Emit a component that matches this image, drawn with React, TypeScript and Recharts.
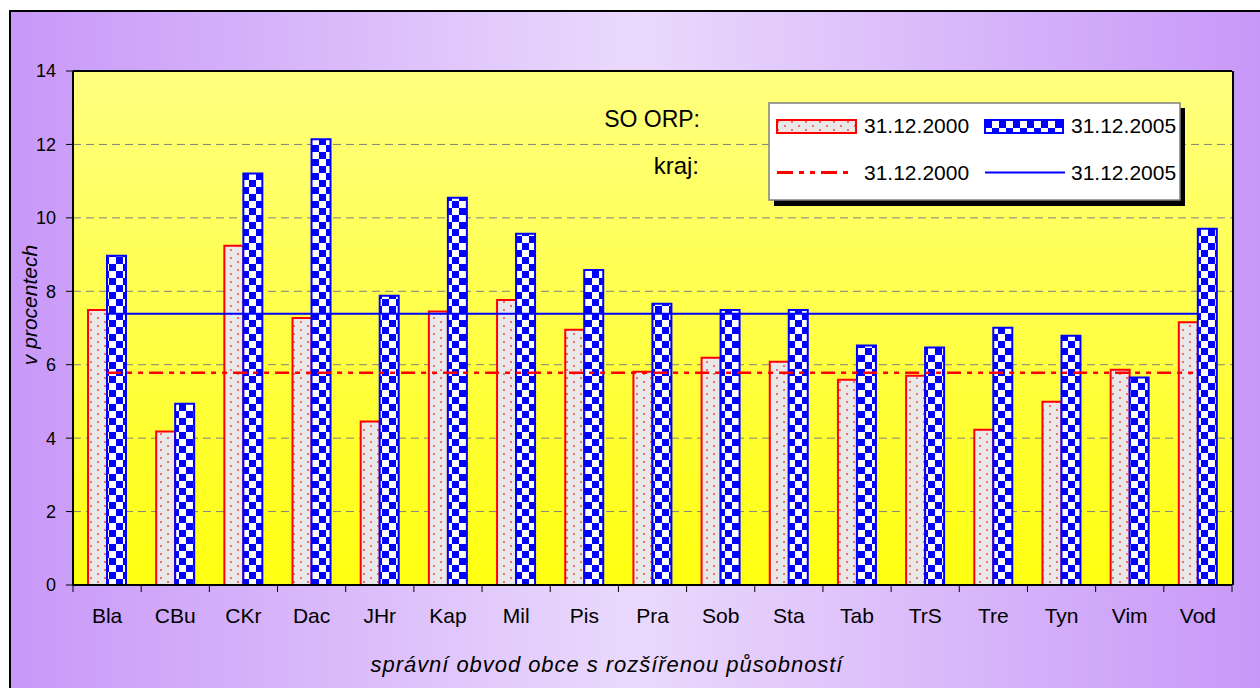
import React from "react";
import {
  ComposedChart,
  Bar,
  Line,
  XAxis,
  YAxis,
  CartesianGrid,
  ReferenceLine,
  Legend,
  Label
} from "recharts";

// categories = správní obvody ORP
const categories = ["Bla", "CBu", "CKr", "Dac", "JHr", "Kap", "Mil", "Pis", "Pra", "Sob", "Sta", "Tab", "TrS", "Tre", "Tyn", "Vim", "Vod"];
// SO ORP values (v procentech)
const orp2000 = [7.49, 4.18, 9.24, 7.27, 4.45, 7.45, 7.76, 6.95, 5.81, 6.19, 6.08, 5.59, 5.7, 4.23, 4.99, 5.86, 7.16];
const orp2005 = [8.97, 4.94, 11.21, 12.14, 7.88, 10.55, 9.57, 8.58, 7.66, 7.49, 7.49, 6.52, 6.47, 7.01, 6.79, 5.65, 9.7];
// kraj averages (same value for every ORP)
const kraj2000 = 5.78;
const kraj2005 = 7.39;
const yTicks = [0, 2, 4, 6, 8, 10, 12, 14];

const seriesLabels = ["31.12.2000", "31.12.2005"];

const data = categories.map((name, i) => ({
  name,
  orp2000: orp2000[i],
  orp2005: orp2005[i],
  kraj2000,
  kraj2005
}));

const FONT = "'Liberation Sans', Arial, sans-serif";
const CHART_W = 1249;
const CHART_H = 676;
const MARGIN = { top: 59, right: 28, left: 12, bottom: 63 };
const Y_W = 50;
const PLOT_W = CHART_W - MARGIN.left - MARGIN.right - Y_W;

// tick marks sit between categories, like in Excel
const XTick = (props: any) => {
  const { x, y, payload, index } = props;
  const band = PLOT_W / categories.length;
  const last = index === categories.length - 1;
  return (
    <g>
      <line x1={x - band / 2} y1={y} x2={x - band / 2} y2={y + 7} stroke="#000" strokeWidth={1} />
      {last && <line x1={x + band / 2} y1={y} x2={x + band / 2} y2={y + 7} stroke="#000" strokeWidth={1} />}
      <text x={x} y={y + 38} textAnchor="middle" fill="#000" fontSize={21} fontFamily={FONT}>
        {payload.value}
      </text>
    </g>
  );
};

const LegendBox = () => (
  <svg width={600} height={120} style={{ display: "block", overflow: "visible" }}>
    <text x={100} y={27} textAnchor="end" fontSize={23} fontFamily={FONT} fill="#000">SO ORP:</text>
    <text x={99} y={74} textAnchor="end" fontSize={24} fontFamily={FONT} fill="#000">kraj:</text>
    <rect x={174} y={8} width={411} height={98} fill="#000" />
    <rect x={169} y={3} width={411} height={97} fill="#fff" stroke="#808080" strokeWidth={1.5} />
    <rect x={177} y={20} width={79} height={13} fill="url(#dots)" stroke="#ff0000" strokeWidth={2} />
    <text x={264} y={33} fontSize={21} fontFamily={FONT} fill="#000">{seriesLabels[0]}</text>
    <rect x={385} y={20} width={78} height={13} fill="url(#checks)" stroke="#0000ff" strokeWidth={2} />
    <text x={471} y={33} fontSize={21} fontFamily={FONT} fill="#000">{seriesLabels[1]}</text>
    <line x1={177} y1={72.5} x2={250} y2={72.5} stroke="#ff0000" strokeWidth={3} strokeDasharray="16 6 5 6 5 6" />
    <text x={264} y={80} fontSize={21} fontFamily={FONT} fill="#000">{seriesLabels[0]}</text>
    <line x1={385} y1={72.5} x2={465} y2={72.5} stroke="#0000ff" strokeWidth={2} />
    <text x={471} y={80} fontSize={21} fontFamily={FONT} fill="#000">{seriesLabels[1]}</text>
  </svg>
);

export default function App() {
  return (
    <div
      style={{
        position: "absolute",
        left: 9,
        top: 10,
        width: 1251,
        height: 678,
        boxSizing: "border-box",
        borderTop: "2px solid #000",
        borderLeft: "2px solid #000",
        overflow: "hidden",
        background: "linear-gradient(to right, #c898f8 0%, #ead9fc 50%, #c898f8 100%)"
      }}
    >
      <ComposedChart width={CHART_W} height={CHART_H} data={data} margin={MARGIN} barSize={19} barGap={0}>
        <defs>
          <linearGradient id="plotBg" x1="0" y1="0" x2="0" y2="1">
            <stop offset="0%" stopColor="#ffff80" />
            <stop offset="100%" stopColor="#ffff10" />
          </linearGradient>
          <pattern id="dots" width={14} height={8} patternUnits="userSpaceOnUse">
            <rect width={14} height={8} fill="#e8e8e8" />
            <circle cx={3} cy={2} r={1} fill="#ff4040" />
            <circle cx={10} cy={6} r={1} fill="#ff4040" />
          </pattern>
          <pattern id="checks" width={14} height={14} patternUnits="userSpaceOnUse">
            <rect width={14} height={14} fill="#ffffff" />
            <rect width={7} height={7} fill="#0000ff" />
            <rect x={7} y={7} width={7} height={7} fill="#0000ff" />
          </pattern>
        </defs>
        <CartesianGrid
          vertical={false}
          fill="url(#plotBg)"
          stroke="#808080"
          strokeDasharray="8 5"
          strokeWidth={1}
        />
        <XAxis
          dataKey="name"
          height={40}
          tickLine={false}
          tickSize={0}
          tickMargin={0}
          interval={0}
          axisLine={{ stroke: "#000", strokeWidth: 2 }}
          tick={<XTick />}
        >
          <Label
            content={() => (
              <text x={596} y={660} textAnchor="middle" fontSize={22} letterSpacing={0.95} fontStyle="italic" fontFamily={FONT} fill="#000">
                správní obvod obce s rozšířenou působností
              </text>
            )}
          />
        </XAxis>
        <YAxis
          width={Y_W}
          domain={[0, 14]}
          ticks={yTicks}
          interval={0}
          tickSize={7}
          tickMargin={10}
          axisLine={{ stroke: "#000", strokeWidth: 2 }}
          tickLine={{ stroke: "#000" }}
          tick={{ fontSize: 18, fontFamily: FONT, fill: "#000" }}
        >
          <Label
            content={() => (
              <text
                x={18}
                y={293}
                transform="rotate(-90 18 293)"
                textAnchor="middle"
                dominantBaseline="central"
                fontSize={21}
                fontStyle="italic"
                fontFamily={FONT}
                fill="#000"
              >
                v procentech
              </text>
            )}
          />
        </YAxis>
        <Line
          dataKey="kraj2005"
          stroke="#0000ff"
          strokeWidth={2}
          dot={false}
          activeDot={false}
          isAnimationActive={false}
          legendType="none"
        />
        <Bar dataKey="orp2000" name={seriesLabels[0]} fill="url(#dots)" stroke="#ff0000" strokeWidth={2} isAnimationActive={false} />
        <Bar dataKey="orp2005" name={seriesLabels[1]} fill="url(#checks)" stroke="#0000ff" strokeWidth={2} isAnimationActive={false} />
        <Line
          dataKey="kraj2000"
          stroke="#ff0000"
          strokeWidth={2.5}
          strokeDasharray="14 6 5 6 5 6"
          dot={false}
          activeDot={false}
          isAnimationActive={false}
          legendType="none"
        />
        <ReferenceLine y={14} stroke="#000" strokeWidth={2} />
        <Legend
          layout="horizontal"
          verticalAlign="middle"
          align="center"
          wrapperStyle={{ left: 589, top: 88, width: 600, height: 120 }}
          content={() => <LegendBox />}
        />
      </ComposedChart>
      <div
        style={{
          position: "absolute",
          left: 1232 - 11,
          top: 71 - 12,
          width: 2,
          height: 514,
          background: "#000"
        }}
      />
    </div>
  );
}
